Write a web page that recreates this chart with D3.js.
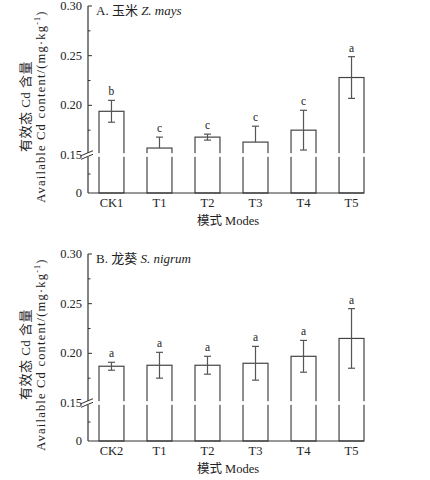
<!DOCTYPE html>
<html>
<head>
<meta charset="utf-8">
<script src="https://cdn.jsdelivr.net/npm/d3@7"></script>
<style>
  body { margin: 0; background: #fff; }
  svg text { font-family: "Liberation Serif", "Times New Roman", "Noto Sans CJK SC", serif; fill: #222; }
</style>
</head>
<body>
<div class="container"></div>
<script>
const WIDTH = 430;
const HEIGHT = 480;

// panel A - maize
const modesA = ["CK1", "T1", "T2", "T3", "T4", "T5"];
const meansA = [0.194, 0.157, 0.168, 0.163, 0.175, 0.228];
const errsA = [0.011, 0.011, 0.003, 0.016, 0.020, 0.021];
const lettersA = ["b", "c", "c", "c", "c", "a"];

// panel B - black nightshade
const modesB = ["CK2", "T1", "T2", "T3", "T4", "T5"];
const meansB = [0.187, 0.188, 0.188, 0.190, 0.197, 0.215];
const errsB = [0.004, 0.013, 0.009, 0.017, 0.016, 0.030];
const lettersB = ["a", "a", "a", "a", "a", "a"];

const upperTicks = [0.15, 0.20, 0.25, 0.30];
const upperMinor = [0.175, 0.225, 0.275];
const lowerTicks = [0];
const lowerMinor = [0.075];
const BREAK = 0.15;

const AXIS_X = 88;
const TOP = 6;
const BREAK_Y = 155;
const BOTTOM = 193;

var svg = d3.select('.container').append('svg')
  .attr('width', WIDTH)
  .attr('height', HEIGHT);

var translate = function (x, y) {
  return "translate(" + x + "," + y + ")";
};

var drawPanel = function (offsetY, modes, means, errs, letters, titleStart, titleItalic) {
  var g = svg.append('g').attr('transform', translate(0, offsetY));

  var x = d3.scaleBand()
    .domain(modes)
    .range([AXIS_X, AXIS_X + 287])
    .paddingInner(0.48)
    .paddingOuter(0.229);

  var yUp = d3.scaleLinear().domain([BREAK, 0.30]).range([BREAK_Y, TOP]);
  var yLow = d3.scaleLinear().domain([0, BREAK]).range([BOTTOM, BREAK_Y]);

  var rows = modes.map(function (m, i) {
    return { mode: m, mean: means[i], err: errs[i], letter: letters[i] };
  });

  // bars
  g.selectAll('rect.bar')
    .data(rows)
    .enter().append('rect')
    .attr('class', 'bar')
    .attr('x', function (d) { return x(d.mode); })
    .attr('y', function (d) { return yUp(d.mean); })
    .attr('width', x.bandwidth())
    .attr('height', function (d) { return BOTTOM - yUp(d.mean); })
    .attr('fill', 'white')
    .attr('stroke', '#444')
    .attr('stroke-width', 1.2);

  // error bars (lower half dropped when it falls below the break)
  var cap = 3.5;
  rows.forEach(function (d) {
    var cx = x(d.mode) + x.bandwidth() / 2;
    var hi = yUp(d.mean + d.err);
    var hasLow = d.mean - d.err >= BREAK;
    var lo = hasLow ? yUp(d.mean - d.err) : yUp(d.mean);
    g.append('line')
      .attr('x1', cx).attr('x2', cx).attr('y1', hi).attr('y2', lo)
      .attr('stroke', '#555').attr('stroke-width', 1.2);
    g.append('line')
      .attr('x1', cx - cap).attr('x2', cx + cap).attr('y1', hi).attr('y2', hi)
      .attr('stroke', '#555').attr('stroke-width', 1.2);
    if (hasLow) {
      g.append('line')
        .attr('x1', cx - cap).attr('x2', cx + cap).attr('y1', lo).attr('y2', lo)
        .attr('stroke', '#555').attr('stroke-width', 1.2);
    }
    g.append('text')
      .attr('x', cx)
      .attr('y', hi - 5)
      .attr('text-anchor', 'middle')
      .attr('font-size', 11.5)
      .text(d.letter);
  });

  // y axis, upper and lower pieces
  g.append('line')
    .attr('x1', AXIS_X).attr('x2', AXIS_X).attr('y1', TOP).attr('y2', BREAK_Y - 2)
    .attr('stroke', '#333').attr('stroke-width', 1.2);
  g.append('line')
    .attr('x1', AXIS_X).attr('x2', AXIS_X).attr('y1', BREAK_Y + 2).attr('y2', BOTTOM)
    .attr('stroke', '#333').attr('stroke-width', 1.2);

  // x axis baseline
  var xEnd = x(modes[modes.length - 1]) + x.bandwidth();
  g.append('line')
    .attr('x1', AXIS_X).attr('x2', xEnd).attr('y1', BOTTOM).attr('y2', BOTTOM)
    .attr('stroke', '#333').attr('stroke-width', 1.2);

  // break gap across the bars
  g.append('rect')
    .attr('x', AXIS_X - 1).attr('y', BREAK_Y - 1.8)
    .attr('width', xEnd - AXIS_X + 4).attr('height', 3.6)
    .attr('fill', 'white');

  // ticks point inward
  var tickData = upperTicks.map(function (v) { return { y: yUp(v), len: 4, label: v.toFixed(2) }; })
    .concat(upperMinor.map(function (v) { return { y: yUp(v), len: 2.5, label: null }; }))
    .concat(lowerTicks.map(function (v) { return { y: yLow(v), len: 0, label: String(v) }; }))
    .concat(lowerMinor.map(function (v) { return { y: yLow(v), len: 2.5, label: null }; }));

  tickData.forEach(function (t) {
    if (t.len > 0 && t.label !== "0.15") {
      g.append('line')
        .attr('x1', AXIS_X).attr('x2', AXIS_X + t.len).attr('y1', t.y).attr('y2', t.y)
        .attr('stroke', '#333').attr('stroke-width', 1);
    }
    if (t.label) {
      g.append('text')
        .attr('x', AXIS_X - 6)
        .attr('y', t.y + 4)
        .attr('text-anchor', 'end')
        .attr('font-size', 12.5)
        .text(t.label);
    }
  });

  // break slashes
  [-1.8, 1.8].forEach(function (dy) {
    g.append('line')
      .attr('x1', AXIS_X - 7).attr('y1', BREAK_Y + dy + 2.5)
      .attr('x2', AXIS_X + 5).attr('y2', BREAK_Y + dy - 2.5)
      .attr('stroke', '#333').attr('stroke-width', 1);
  });

  // x tick labels
  g.selectAll('text.xlab')
    .data(modes)
    .enter().append('text')
    .attr('class', 'xlab')
    .attr('x', function (m) { return x(m) + x.bandwidth() / 2; })
    .attr('y', BOTTOM + 14)
    .attr('text-anchor', 'middle')
    .attr('font-size', 12.5)
    .text(function (m) { return m; });

  g.append('text')
    .attr('x', (AXIS_X + xEnd) / 2 + 2)
    .attr('y', BOTTOM + 32)
    .attr('text-anchor', 'middle')
    .attr('font-size', 12.5)
    .text('模式 Modes');

  // panel title
  var title = g.append('text')
    .attr('x', AXIS_X + 8)
    .attr('y', TOP + 9)
    .attr('font-size', 13);
  title.append('tspan').text(titleStart);
  title.append('tspan').attr('font-style', 'italic').text(titleItalic);

  // y axis title, two lines
  var midY = (TOP + BOTTOM) / 2 + 7;
  g.append('text')
    .attr('transform', translate(30, midY) + ' rotate(-90)')
    .attr('text-anchor', 'middle')
    .attr('font-size', 13)
    .attr('letter-spacing', 0.5)
    .text('有效态 Cd 含量');
  var yl = g.append('text')
    .attr('transform', translate(45, midY) + ' rotate(-90)')
    .attr('text-anchor', 'middle')
    .attr('font-size', 12.5)
    .attr('letter-spacing', 1.2);
  yl.append('tspan').text('Available Cd content/(mg·kg');
  yl.append('tspan').attr('font-size', 8).attr('dy', -5).text('-1');
  yl.append('tspan').attr('dy', 5).text(')');
};

drawPanel(0, modesA, meansA, errsA, lettersA, 'A. 玉米 ', 'Z. mays');
drawPanel(248, modesB, meansB, errsB, lettersB, 'B. 龙葵 ', 'S. nigrum');
</script>
</body>
</html>
